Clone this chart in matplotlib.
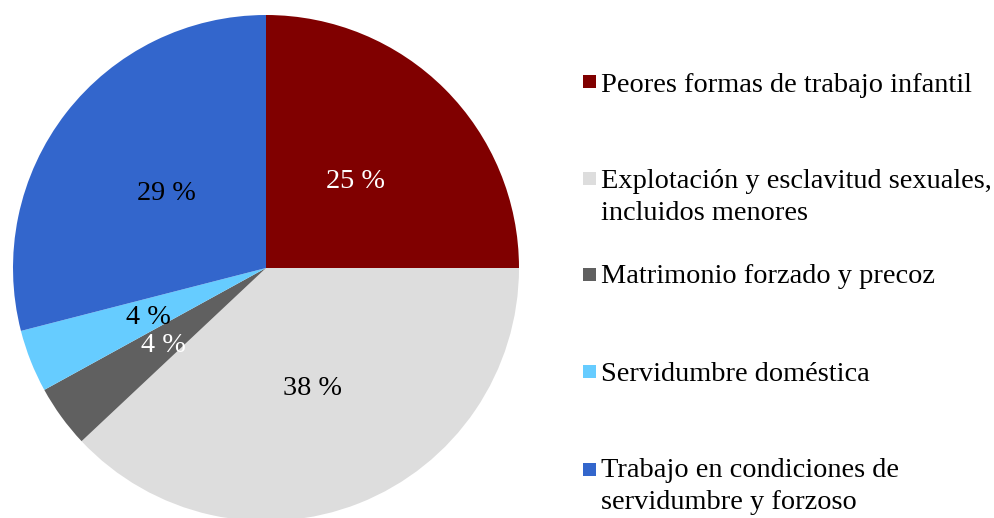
import matplotlib.pyplot as plt
from matplotlib.patches import Rectangle

# data
categorias = [
    "Peores formas de trabajo infantil",
    "Explotación y esclavitud sexuales,\nincluidos menores",
    "Matrimonio forzado y precoz",
    "Servidumbre doméstica",
    "Trabajo en condiciones de\nservidumbre y forzoso",
]
porcentajes = [25, 38, 4, 4, 29]
colores = ["#800000", "#DDDDDD", "#606060", "#66CCFF", "#3366CC"]
color_etiqueta = ["white", "black", "white", "black", "black"]

W, H = 995, 518
plt.rcParams['font.family'] = ['Liberation Serif', 'DejaVu Serif']

fig = plt.figure(figsize=(W / 100, H / 100), dpi=100)

# pie centre (266, 268) px, radius 253 px
cx, cy, r = 266, 268, 253
ax = fig.add_axes([(cx - r) / W, (H - cy - r) / H, 2 * r / W, 2 * r / H])

wedges, texts, autotexts = ax.pie(
    porcentajes, colors=colores, startangle=90, counterclock=False,
    autopct=lambda p: "%d %%" % round(p), pctdistance=0.5, radius=1,
    wedgeprops=dict(linewidth=0))
for t, c in zip(autotexts, color_etiqueta):
    t.set_color(c)
    t.set_fontsize(20.3)
    x, y = t.get_position()
    t.set_position((x, y - 0.012))
ax.set_xlim(-1, 1)
ax.set_ylim(-1, 1)
ax.set_aspect('equal')
ax.axis('off')

# legend, drawn by hand (entries are spaced like the original)
baselines = [92, 188, 283, 381, 477]
marcas = [81, 178, 274, 371, 469]
for lab, col, yb, ym in zip(categorias, colores, baselines, marcas):
    fig.patches.append(Rectangle((583 / W, (H - ym - 6.5) / H), 13 / W, 13 / H,
                                 transform=fig.transFigure, facecolor=col,
                                 edgecolor='none'))
    fig.text(601 / W, (H - yb) / H, lab.split("\n")[0], fontsize=20.4,
             va='baseline', ha='left')
    if "\n" in lab:
        fig.text(601 / W, (H - yb - 32) / H, lab.split("\n")[1], fontsize=20.4,
                 va='baseline', ha='left')

fig.savefig("out.png", dpi=100)
